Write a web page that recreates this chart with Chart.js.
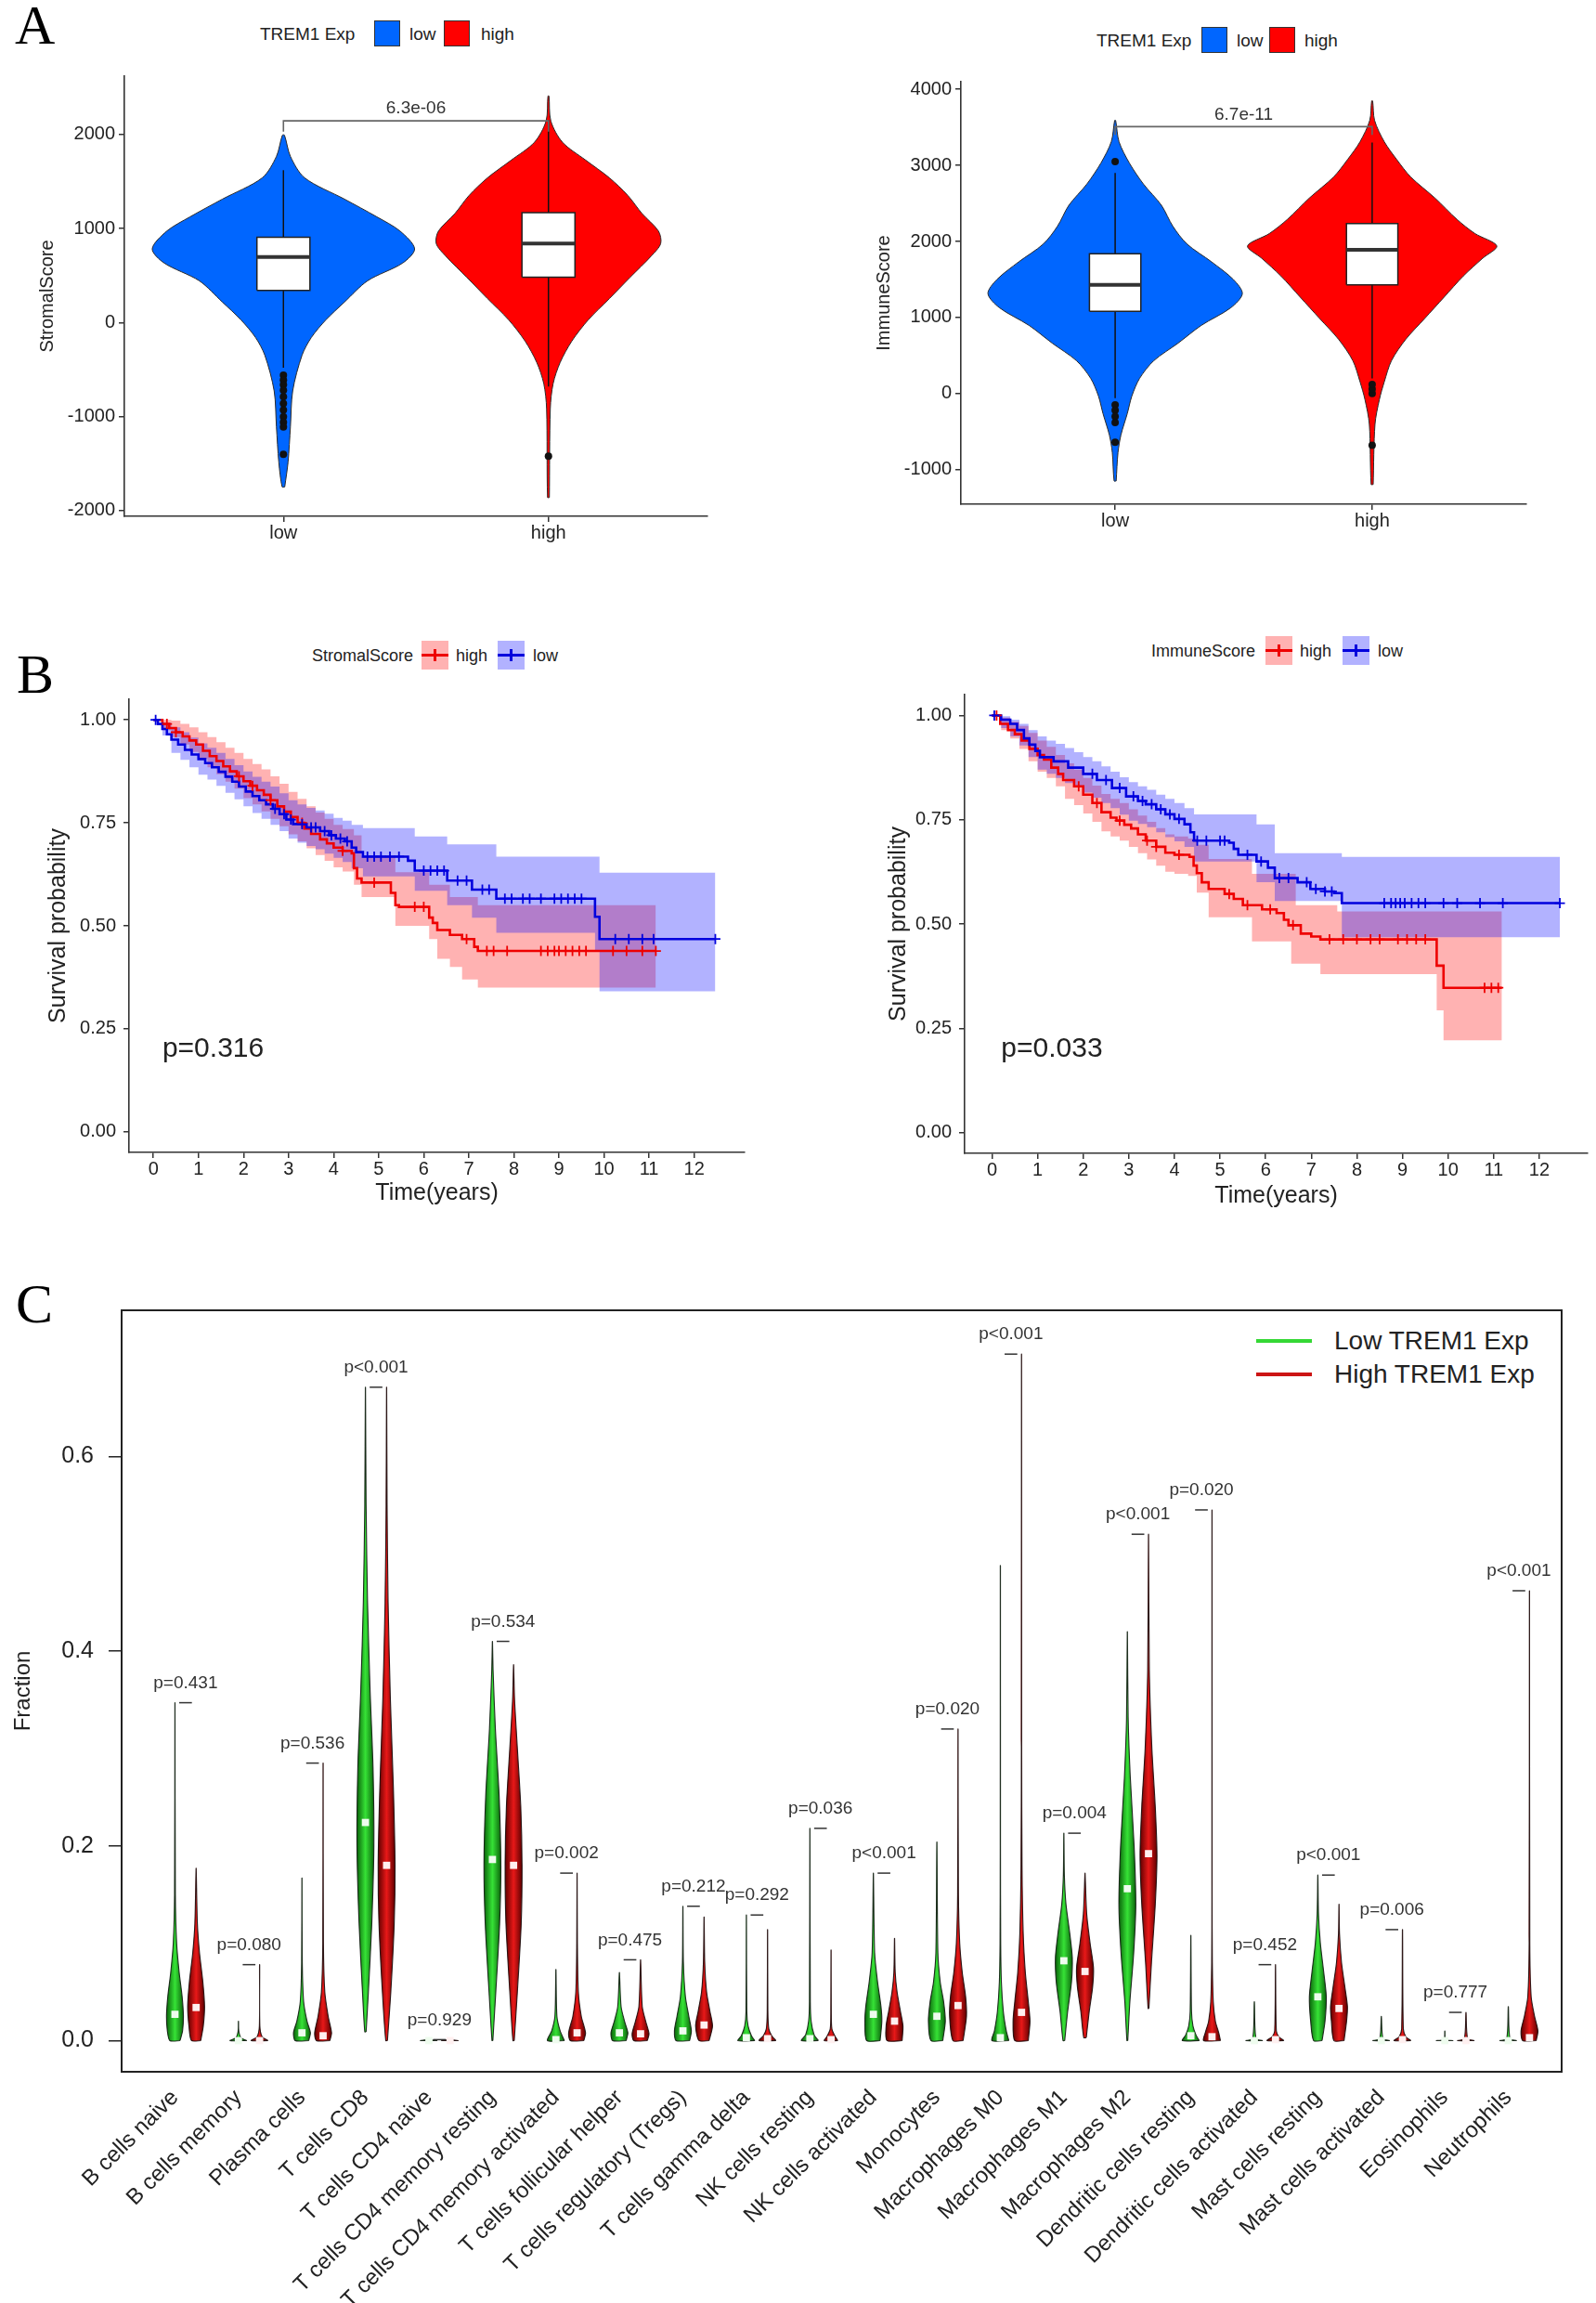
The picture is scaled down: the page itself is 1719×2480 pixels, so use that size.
<!DOCTYPE html>
<html>
<head>
<meta charset="utf-8">
<title>TREM1 expression, ESTIMATE scores and immune infiltration</title>
<script src="https://cdn.jsdelivr.net/npm/chart.js@4.4.1/dist/chart.umd.min.js"></script>
<style>
  html, body { margin: 0; padding: 0; background: #fff; }
  body { position: relative; width: 1719px; height: 2480px; overflow: hidden;
         font-family: "Liberation Sans", Arial, Helvetica, sans-serif; color: #222; }
  canvas { position: absolute; }
  .panel { position: absolute; font-family: "Liberation Serif", "Times New Roman", serif;
           font-size: 60px; line-height: 1; color: #000; }
  .txt { position: absolute; white-space: nowrap; line-height: 1; transform: translateY(-50%); }
  .sw { position: absolute; box-sizing: border-box; }
  .bar { position: absolute; }
</style>
</head>
<body>

<div class="panel" style="left:16px;top:-3px">A</div>
<div class="panel" style="left:18px;top:696px">B</div>
<div class="panel" style="left:17px;top:1374px">C</div>

<!-- panel A legends -->
<div class="txt" style="left:280px;top:36px;font-size:19px">TREM1 Exp</div>
<div class="sw" style="left:403px;top:22px;width:28px;height:28px;background:#0066ff;border:1px solid #333"></div>
<div class="txt" style="left:441px;top:36px;font-size:19px">low</div>
<div class="sw" style="left:478px;top:22px;width:28px;height:28px;background:#ff0000;border:1px solid #333"></div>
<div class="txt" style="left:518px;top:36px;font-size:19px">high</div>

<div class="txt" style="left:1181px;top:43px;font-size:19px">TREM1 Exp</div>
<div class="sw" style="left:1294px;top:29px;width:28px;height:28px;background:#0066ff;border:1px solid #333"></div>
<div class="txt" style="left:1332px;top:43px;font-size:19px">low</div>
<div class="sw" style="left:1367px;top:29px;width:28px;height:28px;background:#ff0000;border:1px solid #333"></div>
<div class="txt" style="left:1405px;top:43px;font-size:19px">high</div>

<!-- panel B legends -->
<div class="txt" style="left:336px;top:706px;font-size:18px">StromalScore</div>
<div class="sw" style="left:454px;top:690px;width:29px;height:31px;background:rgba(255,0,0,0.3)">
  <div class="bar" style="left:0;right:0;top:14px;height:3px;background:#ee0000"></div>
  <div class="bar" style="left:13px;top:9px;width:3px;height:13px;background:#ee0000"></div>
</div>
<div class="txt" style="left:491px;top:706px;font-size:18px">high</div>
<div class="sw" style="left:536px;top:690px;width:29px;height:31px;background:rgba(0,0,255,0.3)">
  <div class="bar" style="left:0;right:0;top:14px;height:3px;background:#0000dd"></div>
  <div class="bar" style="left:13px;top:9px;width:3px;height:13px;background:#0000dd"></div>
</div>
<div class="txt" style="left:574px;top:706px;font-size:18px">low</div>

<div class="txt" style="left:1240px;top:701px;font-size:18px">ImmuneScore</div>
<div class="sw" style="left:1363px;top:685px;width:29px;height:31px;background:rgba(255,0,0,0.3)">
  <div class="bar" style="left:0;right:0;top:14px;height:3px;background:#ee0000"></div>
  <div class="bar" style="left:13px;top:9px;width:3px;height:13px;background:#ee0000"></div>
</div>
<div class="txt" style="left:1400px;top:701px;font-size:18px">high</div>
<div class="sw" style="left:1446px;top:685px;width:29px;height:31px;background:rgba(0,0,255,0.3)">
  <div class="bar" style="left:0;right:0;top:14px;height:3px;background:#0000dd"></div>
  <div class="bar" style="left:13px;top:9px;width:3px;height:13px;background:#0000dd"></div>
</div>
<div class="txt" style="left:1484px;top:701px;font-size:18px">low</div>

<!-- panel C legend -->
<div class="bar" style="left:1353px;top:1442px;width:60px;height:4px;background:#35d835"></div>
<div class="txt" style="left:1437px;top:1444px;font-size:28px">Low TREM1 Exp</div>
<div class="bar" style="left:1353px;top:1478px;width:60px;height:4px;background:#cc1515"></div>
<div class="txt" style="left:1437px;top:1480px;font-size:28px">High TREM1 Exp</div>

<canvas id="stromalViolin" width="800" height="620" style="left:0;top:0"></canvas>
<canvas id="immuneViolin" width="839" height="620" style="left:880px;top:0"></canvas>
<canvas id="stromalKm" width="860" height="640" style="left:0;top:680px"></canvas>
<canvas id="immuneKm" width="839" height="640" style="left:880px;top:680px"></canvas>
<canvas id="cellViolin" width="1719" height="1100" style="left:0;top:1380px"></canvas>

<script>
// ---------------- Panel A: ESTIMATE scores by TREM1 group ----------------
const groupsA = ['low', 'high'];
const stromalTicks = [-2000, -1000, 0, 1000, 2000];
const immuneTicks = [-1000, 0, 1000, 2000, 3000, 4000];

// violin outlines: [score, relative density]
const stromalLow = [[-1747,0.01],[-1483,0.035],[-1105,0.053],[-727,0.07],[-349,0.14],[-160,0.21],[28,0.32],[217,0.46],
  [444,0.635],[633,0.9],[784,0.99],[973,0.88],[1124,0.705],[1313,0.46],[1539,0.16],[1766,0.053],[1992,0.008]];
const stromalHigh = [[-1860,0.007],[-916,0.014],[-651,0.035],[-425,0.088],[-198,0.176],[28,0.3],[255,0.46],[482,0.617],
  [708,0.776],[840,0.847],[973,0.83],[1161,0.705],[1350,0.6],[1539,0.46],[1728,0.28],[1917,0.106],[2143,0.018],[2408,0.004]];
const stromalBoxes = [[342, 697, 908], [482, 840, 1169]];   // q1, median, q3
const stromalWhiskers = [[-480, 1620], [-680, 2150]];
const stromalOutliers = [[-560, -610, -660, -720, -790, -860, -930, -1000, -1060, -1110, -1400], [-1420]];
const stromalBracket = [2030, 2145];                         // tip, bar
const stromalPval = '6.3e-06';

const immuneLow = [[-1149,0.008],[-777,0.022],[-545,0.045],[-266,0.094],[-33,0.13],[199,0.19],[431,0.3],[663,0.49],[896,0.67],
  [1128,0.9],[1314,0.99],[1500,0.92],[1732,0.75],[1965,0.56],[2197,0.45],[2476,0.36],[2755,0.22],[3033,0.11],[3312,0.03],[3591,0.004]];
const immuneHigh = [[-1195,0.008],[-405,0.022],[-80,0.056],[152,0.094],[431,0.15],[710,0.26],[989,0.41],[1268,0.56],[1546,0.71],
  [1779,0.86],[1941,0.97],[2104,0.8],[2290,0.66],[2569,0.49],[2848,0.3],[3080,0.19],[3312,0.094],[3591,0.019],[3847,0.004]];
const immuneBoxes = [[1082, 1430, 1839], [1430, 1890, 2234]];
const immuneWhiskers = [[-60, 2900], [200, 3300]];
const immuneOutliers = [[3050, -150, -220, -300, -380, -640], [0, 60, 120, -680]];
const immuneBracket = [3400, 3510];
const immunePval = '6.7e-11';

// ---------------- Panel B: Kaplan-Meier curves ----------------
const kmTimeTicks = [0, 1, 2, 3, 4, 5, 6, 7, 8, 9, 10, 11, 12];
const kmSurvTicks = [0, 0.25, 0.5, 0.75, 1];

// [time in years, survival] after each step
const stromalKmHigh = [[0,1],[0.2,0.99],[0.35,0.98],[0.5,0.97],[0.65,0.96],[0.8,0.95],[0.95,0.94],[1.1,0.925],[1.25,0.912],
  [1.4,0.9],[1.55,0.887],[1.7,0.875],[1.85,0.863],[2.0,0.851],[2.15,0.84],[2.3,0.829],[2.45,0.818],[2.6,0.805],[2.75,0.79],
  [2.9,0.777],[3.05,0.764],[3.2,0.75],[3.35,0.736],[3.5,0.723],[3.7,0.71],[3.85,0.7],[4.0,0.69],[4.2,0.682],[4.4,0.676],
  [4.45,0.64],[4.52,0.615],[4.62,0.605],[5.27,0.58],[5.37,0.55],[5.45,0.546],[6.12,0.52],[6.2,0.507],[6.3,0.49],[6.58,0.478],
  [6.85,0.468],[7.12,0.449],[7.2,0.439],[11.15,0.439]];
const stromalKmLow = [[0,1],[0.1,0.99],[0.2,0.978],[0.3,0.965],[0.4,0.952],[0.55,0.94],[0.7,0.927],[0.85,0.916],[1.0,0.905],
  [1.15,0.895],[1.3,0.885],[1.45,0.874],[1.6,0.862],[1.75,0.85],[1.9,0.838],[2.05,0.826],[2.2,0.815],[2.35,0.805],[2.5,0.795],
  [2.65,0.784],[2.8,0.771],[2.95,0.758],[3.1,0.747],[3.4,0.739],[3.7,0.73],[3.9,0.72],[4.05,0.712],[4.25,0.705],[4.4,0.69],
  [4.5,0.679],[4.65,0.668],[5.65,0.658],[5.8,0.634],[6.52,0.61],[7.07,0.588],[7.61,0.566],[9.8,0.522],[9.9,0.468],[12.47,0.468]];
const stromalBandHighUp = [[0,1],[0.2,1],[0.4,0.998],[0.6,0.99],[0.8,0.982],[1.0,0.97],[1.2,0.958],[1.4,0.946],[1.6,0.932],
  [1.8,0.92],[2.0,0.905],[2.2,0.893],[2.4,0.88],[2.6,0.863],[2.8,0.845],[3.0,0.825],[3.2,0.808],[3.4,0.79],[3.6,0.775],
  [3.8,0.76],[4.0,0.745],[4.2,0.735],[4.45,0.72],[4.62,0.668],[5.37,0.63],[6.12,0.6],[6.58,0.57],[7.2,0.55],[11.15,0.55]];
const stromalBandHighLo = [[0,1],[0.2,0.975],[0.4,0.958],[0.6,0.94],[0.8,0.922],[1.0,0.905],[1.2,0.885],[1.4,0.868],[1.6,0.85],
  [1.8,0.833],[2.0,0.81],[2.2,0.795],[2.4,0.778],[2.6,0.76],[2.8,0.742],[3.0,0.722],[3.2,0.705],[3.4,0.688],[3.6,0.672],
  [3.8,0.658],[4.0,0.642],[4.2,0.632],[4.45,0.6],[4.62,0.57],[5.37,0.5],[6.12,0.468],[6.3,0.42],[6.58,0.4],[6.85,0.37],
  [7.2,0.35],[11.15,0.35]];
const stromalBandLowUp = [[0,1],[0.2,0.993],[0.4,0.982],[0.6,0.97],[0.8,0.957],[1.0,0.943],[1.2,0.932],[1.4,0.92],[1.6,0.905],
  [1.8,0.89],[2.0,0.875],[2.2,0.862],[2.4,0.85],[2.6,0.838],[2.8,0.822],[3.0,0.805],[3.2,0.795],[3.4,0.786],[3.6,0.78],
  [3.8,0.772],[4.0,0.762],[4.2,0.755],[4.4,0.745],[4.65,0.737],[5.8,0.717],[6.52,0.698],[7.61,0.668],[9.9,0.629],[12.47,0.629]];
const stromalBandLowLo = [[0,1],[0.2,0.962],[0.4,0.92],[0.6,0.903],[0.8,0.885],[1.0,0.867],[1.2,0.855],[1.4,0.84],[1.6,0.823],
  [1.8,0.807],[2.0,0.79],[2.2,0.774],[2.4,0.76],[2.6,0.745],[2.8,0.73],[3.0,0.712],[3.2,0.702],[3.4,0.694],[3.6,0.686],
  [3.8,0.675],[4.0,0.665],[4.2,0.655],[4.4,0.64],[4.65,0.62],[5.8,0.585],[6.52,0.55],[7.07,0.52],[7.61,0.483],[9.8,0.44],
  [9.9,0.341],[12.47,0.341]];
const stromalCensorHigh = [0.3,0.5,1.9,2.2,2.6,3.3,4.2,4.9,5.8,6.0,6.95,7.4,7.55,7.85,8.6,8.75,8.9,9.0,9.15,9.3,9.45,9.6,10.2,10.5,10.85,11.15];
const stromalCensorLow = [0.05,2.7,2.9,3.05,3.3,3.5,3.6,3.8,3.95,4.15,4.3,4.75,4.9,5.05,5.25,5.45,6.0,6.15,6.3,6.45,6.75,6.95,
  7.3,7.45,7.8,7.95,8.2,8.35,8.6,8.9,9.05,9.2,9.35,9.5,10.25,10.55,10.85,11.1,12.47];
const stromalKmP = 'p=0.316';

const immuneKmHigh = [[0,1],[0.18,0.98],[0.35,0.965],[0.5,0.955],[0.65,0.94],[0.82,0.92],[1.0,0.905],[1.14,0.894],[1.3,0.875],
  [1.45,0.86],[1.56,0.845],[1.8,0.83],[2.0,0.81],[2.2,0.79],[2.4,0.768],[2.6,0.755],[2.73,0.748],[2.9,0.738],[3.05,0.729],
  [3.2,0.715],[3.37,0.7],[3.6,0.685],[3.8,0.671],[4.0,0.666],[4.33,0.661],[4.42,0.64],[4.49,0.622],[4.6,0.6],[4.75,0.584],
  [5.1,0.572],[5.3,0.56],[5.5,0.545],[5.92,0.535],[6.24,0.526],[6.4,0.51],[6.5,0.497],[6.77,0.477],[7.0,0.47],[7.2,0.463],
  [9.75,0.4],[9.9,0.347],[11.18,0.347]];
const immuneKmLow = [[0,1],[0.2,0.99],[0.4,0.98],[0.55,0.965],[0.7,0.945],[0.82,0.93],[0.95,0.915],[1.05,0.9],[1.35,0.89],
  [1.67,0.875],[2.0,0.86],[2.3,0.845],[2.63,0.826],[2.94,0.806],[3.2,0.795],[3.37,0.787],[3.6,0.775],[3.8,0.763],[4.0,0.752],
  [4.22,0.739],[4.35,0.72],[4.43,0.7],[5.2,0.695],[5.3,0.68],[5.4,0.666],[5.8,0.65],[6.05,0.635],[6.2,0.61],[6.7,0.6],
  [6.98,0.584],[7.3,0.578],[7.5,0.574],[7.67,0.55],[12.45,0.55]];
const immuneBandHighUp = [[0,1],[0.2,0.995],[0.4,0.985],[0.6,0.975],[0.8,0.958],[1.0,0.94],[1.2,0.925],[1.4,0.905],[1.6,0.885],
  [1.8,0.87],[2.0,0.85],[2.2,0.832],[2.4,0.812],[2.6,0.8],[2.8,0.79],[3.0,0.775],[3.2,0.76],[3.4,0.745],[3.6,0.73],[3.8,0.715],
  [4.0,0.71],[4.3,0.705],[4.49,0.69],[4.75,0.656],[5.7,0.62],[6.66,0.545],[7.57,0.53],[11.18,0.53]];
const immuneBandHighLo = [[0,1],[0.2,0.965],[0.4,0.945],[0.6,0.92],[0.8,0.89],[1.0,0.865],[1.2,0.85],[1.4,0.83],[1.6,0.8],
  [1.8,0.785],[2.0,0.765],[2.2,0.745],[2.4,0.722],[2.6,0.71],[2.8,0.7],[3.0,0.685],[3.2,0.67],[3.4,0.655],[3.6,0.64],[3.8,0.625],
  [4.0,0.62],[4.3,0.615],[4.49,0.575],[4.75,0.516],[5.7,0.458],[6.56,0.405],[7.2,0.38],[9.75,0.293],[9.9,0.221],[11.18,0.221]];
const immuneBandLowUp = [[0,1],[0.2,0.998],[0.4,0.99],[0.6,0.98],[0.8,0.965],[1.0,0.95],[1.2,0.94],[1.4,0.932],[1.6,0.922],
  [1.8,0.912],[2.0,0.9],[2.2,0.89],[2.4,0.878],[2.6,0.865],[2.8,0.852],[3.0,0.84],[3.2,0.83],[3.4,0.822],[3.6,0.81],[3.8,0.8],
  [4.0,0.79],[4.22,0.778],[4.43,0.763],[5.8,0.739],[6.2,0.67],[7.67,0.661],[12.45,0.661]];
const immuneBandLowLo = [[0,1],[0.2,0.97],[0.4,0.95],[0.6,0.928],[0.8,0.9],[1.0,0.87],[1.2,0.86],[1.4,0.85],[1.6,0.838],
  [1.8,0.828],[2.0,0.815],[2.2,0.803],[2.4,0.79],[2.6,0.778],[2.8,0.762],[3.0,0.748],[3.2,0.74],[3.4,0.732],[3.6,0.72],
  [3.8,0.708],[4.0,0.698],[4.22,0.685],[4.43,0.65],[5.8,0.6],[6.2,0.555],[7.67,0.468],[12.45,0.468]];
const immuneCensorHigh = [0.1,1.9,2.3,2.8,3.4,3.6,4.1,5.2,5.6,6.1,6.6,7.4,7.7,8.0,8.3,8.5,8.9,9.1,9.3,9.5,10.8,10.95,11.1];
const immuneCensorLow = [0.05,2.2,2.5,2.8,3.1,3.3,3.5,3.7,3.9,4.1,4.5,4.7,5.0,5.1,5.6,5.9,6.3,6.5,6.9,7.1,7.3,7.45,8.6,8.75,
  8.85,8.95,9.05,9.2,9.35,9.5,9.9,10.2,10.7,11.2,12.45];
const immuneKmP = 'p=0.033';
const kmPvalAt = [0.2, 0.2];   // time, survival

// ---------------- Panel C: CIBERSORT fractions ----------------
const cellTypes = ['B cells naive', 'B cells memory', 'Plasma cells', 'T cells CD8', 'T cells CD4 naive',
  'T cells CD4 memory resting', 'T cells CD4 memory activated', 'T cells follicular helper', 'T cells regulatory (Tregs)',
  'T cells gamma delta', 'NK cells resting', 'NK cells activated', 'Monocytes', 'Macrophages M0', 'Macrophages M1',
  'Macrophages M2', 'Dendritic cells resting', 'Dendritic cells activated', 'Mast cells resting', 'Mast cells activated',
  'Eosinophils', 'Neutrophils'];
const cellP = ['p=0.431', 'p=0.080', 'p=0.536', 'p<0.001', 'p=0.929', 'p=0.534', 'p=0.002', 'p=0.475', 'p=0.212', 'p=0.292',
  'p=0.036', 'p<0.001', 'p=0.020', 'p<0.001', 'p=0.004', 'p<0.001', 'p=0.020', 'p=0.452', 'p<0.001', 'p=0.006', 'p=0.777', 'p<0.001'];
const fracTicks = [0, 0.2, 0.4, 0.6];

// [fraction, relative density], bottom to the maximum
const lowFrac = [
  [[0,0.6],[0.01,0.9],[0.025,1],[0.045,0.85],[0.07,0.5],[0.1,0.2],[0.15,0.05],[0.347,0.01]],
  [[0,1],[0.003,0.3],[0.01,0.04],[0.02,0.01]],
  [[0,0.8],[0.008,1],[0.02,0.6],[0.04,0.2],[0.08,0.04],[0.167,0.01]],
  [[0.009,0.08],[0.05,0.35],[0.12,0.75],[0.2,1],[0.28,0.9],[0.36,0.55],[0.45,0.25],[0.55,0.08],[0.671,0.01]],
  [[0,1],[0.0008,0.2],[0.001,0.01]],
  [[0,0.05],[0.05,0.4],[0.12,0.85],[0.18,1],[0.25,0.8],[0.32,0.35],[0.38,0.08],[0.41,0.01]],
  [[0,1],[0.01,0.5],[0.025,0.12],[0.073,0.01]],
  [[0,0.8],[0.008,1],[0.02,0.6],[0.035,0.2],[0.07,0.01]],
  [[0,0.8],[0.01,1],[0.025,0.7],[0.045,0.3],[0.08,0.06],[0.138,0.01]],
  [[0,1],[0.005,0.6],[0.015,0.2],[0.03,0.05],[0.129,0.01]],
  [[0,1],[0.006,0.5],[0.02,0.15],[0.04,0.05],[0.218,0.01]],
  [[0,0.8],[0.02,1],[0.035,0.9],[0.06,0.5],[0.09,0.15],[0.172,0.01]],
  [[0,0.7],[0.02,1],[0.04,0.8],[0.06,0.4],[0.09,0.12],[0.204,0.01]],
  [[0,1],[0.01,0.7],[0.03,0.35],[0.06,0.12],[0.1,0.04],[0.2,0.015],[0.488,0.01]],
  [[0,0.1],[0.03,0.45],[0.06,0.9],[0.085,1],[0.11,0.7],[0.14,0.25],[0.17,0.06],[0.213,0.01]],
  [[0,0.05],[0.04,0.3],[0.09,0.75],[0.14,1],[0.2,0.8],[0.27,0.35],[0.33,0.1],[0.42,0.01]],
  [[0,1],[0.006,0.6],[0.015,0.25],[0.03,0.08],[0.108,0.01]],
  [[0,1],[0.002,0.2],[0.04,0.01]],
  [[0,0.5],[0.02,0.85],[0.045,1],[0.07,0.7],[0.1,0.3],[0.13,0.08],[0.17,0.01]],
  [[0,1],[0.002,0.2],[0.025,0.01]],
  [[0,1],[0.001,0.1],[0.01,0.01]],
  [[0,1],[0.002,0.2],[0.035,0.01]]
];
const highFrac = [
  [[0,0.55],[0.015,0.85],[0.035,1],[0.06,0.8],[0.09,0.4],[0.12,0.15],[0.177,0.01]],
  [[0,1],[0.004,0.3],[0.015,0.03],[0.078,0.01]],
  [[0,0.8],[0.008,1],[0.025,0.6],[0.05,0.2],[0.1,0.04],[0.285,0.01]],
  [[0,0.1],[0.05,0.5],[0.12,0.9],[0.18,1],[0.26,0.8],[0.35,0.45],[0.45,0.18],[0.55,0.06],[0.671,0.01]],
  [[0,1],[0.0008,0.2],[0.001,0.01]],
  [[0,0.08],[0.05,0.45],[0.12,0.9],[0.18,1],[0.24,0.85],[0.3,0.45],[0.35,0.12],[0.386,0.01]],
  [[0,0.8],[0.008,1],[0.025,0.5],[0.05,0.15],[0.1,0.04],[0.172,0.01]],
  [[0,0.8],[0.007,1],[0.02,0.6],[0.035,0.2],[0.083,0.01]],
  [[0,0.6],[0.015,1],[0.03,0.7],[0.05,0.3],[0.08,0.08],[0.127,0.01]],
  [[0,1],[0.005,0.5],[0.012,0.15],[0.03,0.04],[0.114,0.01]],
  [[0,0.8],[0.004,0.5],[0.012,0.1],[0.03,0.03],[0.093,0.01]],
  [[0,0.9],[0.015,1],[0.03,0.7],[0.05,0.3],[0.07,0.08],[0.105,0.01]],
  [[0,0.6],[0.025,1],[0.045,0.9],[0.07,0.5],[0.1,0.2],[0.15,0.05],[0.32,0.01]],
  [[0,0.8],[0.02,1],[0.04,0.8],[0.07,0.45],[0.11,0.2],[0.18,0.06],[0.3,0.02],[0.705,0.01]],
  [[0.003,0.15],[0.03,0.5],[0.055,0.9],[0.075,1],[0.1,0.6],[0.13,0.2],[0.172,0.01]],
  [[0.033,0.05],[0.08,0.35],[0.14,0.8],[0.19,1],[0.24,0.8],[0.3,0.4],[0.38,0.1],[0.52,0.01]],
  [[0,1],[0.008,0.8],[0.02,0.4],[0.04,0.15],[0.08,0.04],[0.15,0.015],[0.545,0.01]],
  [[0,1],[0.004,0.4],[0.01,0.1],[0.078,0.01]],
  [[0,0.6],[0.02,0.9],[0.035,1],[0.055,0.7],[0.08,0.3],[0.11,0.06],[0.14,0.01]],
  [[0,1],[0.004,0.4],[0.012,0.1],[0.114,0.01]],
  [[0,1],[0.002,0.2],[0.029,0.01]],
  [[0,0.8],[0.01,1],[0.025,0.6],[0.045,0.2],[0.1,0.04],[0.462,0.01]]
];
const lowMedian = [0.027,0,0.008,0.224,0,0.186,0.001,0.008,0.01,0.003,0.002,0.027,0.025,0.003,0.082,0.156,0.005,0,0.045,0,0,0];
const highMedian = [0.034,0,0.005,0.18,0,0.18,0.008,0.007,0.016,0.002,0.001,0.02,0.036,0.029,0.071,0.192,0.004,0.001,0.033,0.001,0,0.003];

// ---------------- helpers ----------------
const FONT = '"Liberation Sans", Arial, Helvetica, sans-serif';
const INK = '#222';
const RED = '#ee0000';
const BLUE = '#0000dd';
const SCORE_HALF = 0.5;   // widest violin half-width, panel A (category units)
const CELL_HALF = 0.4;    // widest violin half-width, panel C

function xy(pairs) { return pairs.map(([x, y]) => ({ x, y })); }

function violinOutline(center, shape, half) {
  const right = shape.map(([v, d]) => ({ x: center + d * half, y: v }));
  const left = shape.slice().reverse().map(([v, d]) => ({ x: center - d * half, y: v }));
  return right.concat(left, [right[0]]);
}

function survAt(curve, t) {
  let s = 1;
  for (const [x, y] of curve) if (x <= t) s = y;
  return s;
}

function setTicks(values) { return scale => { scale.ticks = values.map(value => ({ value })); }; }
function fixWidth(px) { return scale => { scale.width = px; }; }
function fixHeight(px) { return scale => { scale.height = px; }; }

// stack datasets so the first one listed is painted first
function painterOrder(sets) { sets.forEach((d, i) => { d.order = sets.length - i; }); return sets; }

function notes(items) {
  return {
    id: 'notes',
    afterDatasetsDraw(chart) {
      const { ctx, scales: { x, y } } = chart;
      items.forEach(n => {
        ctx.save();
        ctx.font = `${n.size}px ${FONT}`;
        ctx.fillStyle = n.color || INK;
        ctx.textAlign = n.align || 'center';
        ctx.textBaseline = 'middle';
        ctx.fillText(n.text, x.getPixelForValue(n.x), y.getPixelForValue(n.y) + (n.dy || 0));
        ctx.restore();
      });
    }
  };
}

const frame = {
  id: 'frame',
  afterDraw(chart) {
    const { ctx, chartArea: a } = chart;
    ctx.save();
    ctx.strokeStyle = INK;
    ctx.lineWidth = 2;
    ctx.strokeRect(a.left, a.top, a.right - a.left, a.bottom - a.top);
    ctx.restore();
  }
};

function baseOptions(canvas, area) {
  return {
    responsive: false, animation: false, events: [],
    layout: { autoPadding: false, padding: { left: 0, top: area.top, right: canvas.width - area.right, bottom: 0 } },
    plugins: { legend: { display: false }, tooltip: { enabled: false }, colors: { enabled: false } }
  };
}

function classicAxis(o) {
  return Object.assign({
    type: 'linear',
    grid: { drawOnChartArea: false, tickLength: 6, color: '#333', lineWidth: 1.5 },
    border: { color: '#333', width: 1.6 },
    ticks: { color: INK, font: { family: FONT, size: 20 }, padding: 4 }
  }, o);
}

// ---------------- panel A ----------------
function scoreViolin(id, area, d) {
  const canvas = document.getElementById(id);
  const fills = ['#0066ff', '#ff0000'];
  const sets = [];
  [d.low, d.high].forEach((shape, i) => {
    sets.push({ data: violinOutline(i + 1, shape, SCORE_HALF), fill: 'shape', backgroundColor: fills[i],
      borderColor: '#2a2a2a', borderWidth: 1, pointRadius: 0, tension: 0.3 });
  });
  d.whiskers.forEach(([lo, hi], i) => {
    sets.push({ data: [{ x: i + 1, y: lo }, { x: i + 1, y: hi }], borderColor: '#111', borderWidth: 1.5, pointRadius: 0, fill: false });
  });
  d.boxes.forEach(([q1, med, q3], i) => {
    const c = i + 1;
    sets.push({ data: [{ x: c - 0.1, y: q1 }, { x: c + 0.1, y: q1 }, { x: c + 0.1, y: q3 }, { x: c - 0.1, y: q3 }, { x: c - 0.1, y: q1 }],
      fill: 'shape', backgroundColor: '#fff', borderColor: '#222', borderWidth: 1.5, pointRadius: 0 });
    sets.push({ data: [{ x: c - 0.1, y: med }, { x: c + 0.1, y: med }], borderColor: '#333', borderWidth: 4, pointRadius: 0, fill: false });
  });
  d.outliers.forEach((vals, i) => {
    sets.push({ data: vals.map(v => ({ x: i + 1, y: v })), showLine: false, pointRadius: 4,
      pointBackgroundColor: '#111', pointBorderWidth: 0 });
  });
  const [tip, bar] = d.bracket;
  sets.push({ data: [{ x: 1, y: tip }, { x: 1, y: bar }, { x: 2, y: bar }, { x: 2, y: tip }],
    borderColor: '#666', borderWidth: 1.6, pointRadius: 0, fill: false });

  const opts = baseOptions(canvas, area);
  opts.scales = {
    x: classicAxis({ min: 0.4, max: 2.6, afterBuildTicks: setTicks([1, 2]), afterFit: fixHeight(canvas.height - area.bottom),
      ticks: { color: INK, font: { family: FONT, size: 20 }, padding: 0, callback: v => groupsA[v - 1] } }),
    y: classicAxis({ min: d.yMin, max: d.yMax, afterBuildTicks: setTicks(d.ticks), afterFit: fixWidth(area.left),
      ticks: { color: INK, font: { family: FONT, size: 20 }, padding: 4, callback: v => String(v) },
      title: { display: true, text: d.title, color: INK, font: { family: FONT, size: 20 }, padding: { top: d.titlePad, bottom: 0 } } })
  };
  new Chart(canvas, {
    type: 'line',
    data: { datasets: painterOrder(sets) },
    options: opts,
    plugins: [notes([{ x: 1.5, y: bar, dy: -13, text: d.pval, size: 19, color: '#333' }])]
  });
}

scoreViolin('stromalViolin', { left: 134, top: 82, right: 762, bottom: 556 }, {
  low: stromalLow, high: stromalHigh, boxes: stromalBoxes, whiskers: stromalWhiskers, outliers: stromalOutliers,
  bracket: stromalBracket, pval: stromalPval, ticks: stromalTicks, yMin: -2060, yMax: 2620, title: 'StromalScore', titlePad: 39
});
scoreViolin('immuneViolin', { left: 155, top: 88, right: 764, bottom: 543 }, {
  low: immuneLow, high: immuneHigh, boxes: immuneBoxes, whiskers: immuneWhiskers, outliers: immuneOutliers,
  bracket: immuneBracket, pval: immunePval, ticks: immuneTicks, yMin: -1455, yMax: 4100, title: 'ImmuneScore', titlePad: 60
});

// ---------------- panel B ----------------
function survivalChart(id, area, d) {
  const canvas = document.getElementById(id);
  const band = (up, lo, color) => [
    { data: xy(up), stepped: true, borderWidth: 0, pointRadius: 0, fill: '+1', backgroundColor: color },
    { data: xy(lo), stepped: true, borderWidth: 0, pointRadius: 0, fill: false }
  ];
  const curve = (pts, color) => ({ data: xy(pts), stepped: true, borderColor: color, borderWidth: 2.6, pointRadius: 0, fill: false });
  const censor = (times, pts, color) => ({
    data: times.map(t => ({ x: t, y: survAt(pts, t) })), showLine: false,
    pointStyle: 'cross', pointRadius: 5.5, pointBorderWidth: 1.8, pointBorderColor: color, borderColor: color
  });
  const sets = [
    ...band(d.highUp, d.highLo, 'rgba(255,0,0,0.3)'),
    ...band(d.lowUp, d.lowLo, 'rgba(0,0,255,0.3)'),
    curve(d.high, RED), curve(d.low, BLUE),
    censor(d.censorHigh, d.high, RED), censor(d.censorLow, d.low, BLUE)
  ];

  const opts = baseOptions(canvas, area);
  opts.scales = {
    x: classicAxis({ min: d.xMin, max: d.xMax, afterBuildTicks: setTicks(kmTimeTicks), afterFit: fixHeight(canvas.height - area.bottom),
      ticks: { color: INK, font: { family: FONT, size: 20 }, padding: 0, callback: v => String(v) },
      title: { display: true, text: 'Time(years)', color: INK, font: { family: FONT, size: 25 }, padding: { top: 0, bottom: d.xTitlePad } } }),
    y: classicAxis({ min: -0.05, max: 1.05, afterBuildTicks: setTicks(kmSurvTicks), afterFit: fixWidth(area.left),
      ticks: { color: INK, font: { family: FONT, size: 20 }, padding: 8, callback: v => v.toFixed(2) },
      title: { display: true, text: 'Survival probability', color: INK, font: { family: FONT, size: 25 }, padding: { top: d.yTitlePad, bottom: 0 } } })
  };
  new Chart(canvas, {
    type: 'line',
    data: { datasets: painterOrder(sets) },
    options: opts,
    plugins: [notes([{ x: kmPvalAt[0], y: kmPvalAt[1], text: d.pval, size: 30, align: 'left' }])]
  });
}

survivalChart('stromalKm', { left: 139, top: 73, right: 802, bottom: 561 }, {
  high: stromalKmHigh, low: stromalKmLow, highUp: stromalBandHighUp, highLo: stromalBandHighLo,
  lowUp: stromalBandLowUp, lowLo: stromalBandLowLo, censorHigh: stromalCensorHigh, censorLow: stromalCensorLow,
  pval: stromalKmP, xMin: -0.54, xMax: 13.12, xTitlePad: 20, yTitlePad: 48
});
survivalChart('immuneKm', { left: 159, top: 68, right: 830, bottom: 562 }, {
  high: immuneKmHigh, low: immuneKmLow, highUp: immuneBandHighUp, highLo: immuneBandHighLo,
  lowUp: immuneBandLowUp, lowLo: immuneBandLowLo, censorHigh: immuneCensorHigh, censorLow: immuneCensorLow,
  pval: immuneKmP, xMin: -0.6, xMax: 13.06, xTitlePad: 17, yTitlePad: 73
});

// ---------------- panel C ----------------
function vioGradient(edge, mid) {
  return ctx => {
    const ds = ctx.dataset, xs = ctx.chart.scales.x;
    if (!ds || !xs || ds.center === undefined) return mid;
    const l = xs.getPixelForValue(ds.center - CELL_HALF), r = xs.getPixelForValue(ds.center + CELL_HALF);
    if (!isFinite(l) || !isFinite(r) || r - l < 1) return mid;
    const g = ctx.chart.ctx.createLinearGradient(l, 0, r, 0);
    g.addColorStop(0, edge);
    g.addColorStop(0.5, mid);
    g.addColorStop(1, edge);
    return g;
  };
}

(function cellChart() {
  const canvas = document.getElementById('cellViolin');
  const area = { left: 131, top: 31, right: 1682, bottom: 851 };
  const greenFill = vioGradient('#0b650b', '#36e236');
  const redFill = vioGradient('#600000', '#e81818');
  const sets = [];
  const labels = [];
  cellTypes.forEach((name, i) => {
    const lowX = 3 * i, highX = 3 * i + 1;
    sets.push({ center: lowX, data: violinOutline(lowX, lowFrac[i], CELL_HALF), fill: 'shape', backgroundColor: greenFill,
      borderColor: 'rgba(15,25,15,0.9)', borderWidth: 1.1, pointRadius: 0, tension: 0.25 });
    sets.push({ center: highX, data: violinOutline(highX, highFrac[i], CELL_HALF), fill: 'shape', backgroundColor: redFill,
      borderColor: 'rgba(25,10,10,0.9)', borderWidth: 1.1, pointRadius: 0, tension: 0.25 });
    const top = Math.max(lowFrac[i][lowFrac[i].length - 1][0], highFrac[i][highFrac[i].length - 1][0]);
    sets.push({ data: [{ x: lowX + 0.2, y: top }, { x: lowX + 0.8, y: top }], borderColor: '#333', borderWidth: 1.5, pointRadius: 0, fill: false });
    labels.push({ x: lowX + 0.5, y: top + 0.02, text: cellP[i], size: 19, color: '#333' });
  });
  sets.push({ data: lowMedian.map((m, i) => ({ x: 3 * i, y: m })), showLine: false, pointStyle: 'rect', pointRadius: 5.5,
    pointBackgroundColor: '#eefcee', pointBorderWidth: 0 });
  sets.push({ data: highMedian.map((m, i) => ({ x: 3 * i + 1, y: m })), showLine: false, pointStyle: 'rect', pointRadius: 5.5,
    pointBackgroundColor: '#fff0f0', pointBorderWidth: 0 });

  const opts = baseOptions(canvas, area);
  opts.scales = {
    x: { type: 'linear', min: -2.52, max: 65.52, afterBuildTicks: setTicks(cellTypes.map((_, i) => 3 * i)),
      afterFit: fixHeight(canvas.height - area.bottom),
      grid: { display: false, drawTicks: false }, border: { display: false },
      ticks: { autoSkip: false, minRotation: 45, maxRotation: 45, padding: 14, color: INK,
        font: { family: FONT, size: 24 }, callback: v => cellTypes[Math.round(v / 3)] } },
    y: { type: 'linear', min: -0.032, max: 0.75, afterBuildTicks: setTicks(fracTicks), afterFit: fixWidth(area.left),
      grid: { drawOnChartArea: false, tickLength: 14, color: INK, lineWidth: 1.5 }, border: { display: false },
      ticks: { padding: 16, color: INK, font: { family: FONT, size: 25 }, callback: v => v.toFixed(1) },
      title: { display: true, text: 'Fraction', color: INK, font: { family: FONT, size: 24 }, padding: { top: 11, bottom: 0 } } }
  };
  new Chart(canvas, {
    type: 'line',
    data: { datasets: painterOrder(sets) },
    options: opts,
    plugins: [notes(labels), frame]
  });
})();
</script>
</body>
</html>
